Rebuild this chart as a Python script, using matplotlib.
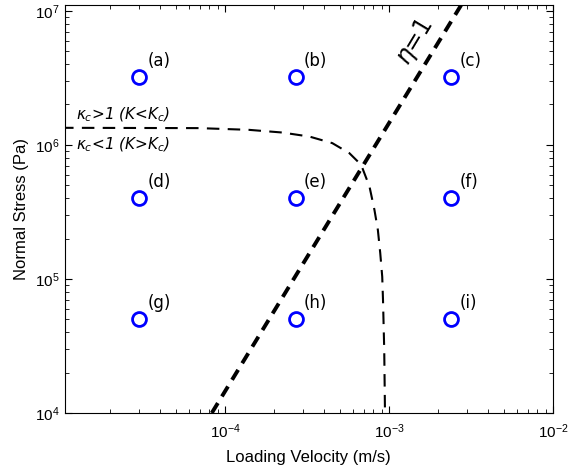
import matplotlib
matplotlib.use("Agg")
import matplotlib.pyplot as plt

plt.rcParams['font.family'] = ['Liberation Sans', 'DejaVu Sans']
plt.rcParams['mathtext.fontset'] = 'custom'
plt.rcParams['mathtext.it'] = 'DejaVu Sans:italic'
plt.rcParams['mathtext.rm'] = 'DejaVu Sans'

# --- test points (loading velocity, normal stress) ---
vel_pts = [3.0e-5, 2.7e-4, 2.4e-3]
stress_pts = [3.2e6, 4.0e5, 5.0e4]
point_labels = [['(a)', '(b)', '(c)'],
                ['(d)', '(e)', '(f)'],
                ['(g)', '(h)', '(i)']]

# --- critical stiffness boundary (kappa_c = 1) ---
kc_vel = [1.0e-5, 6.93e-5, 1.40e-4, 2.23e-4, 3.27e-4, 4.51e-4, 5.73e-4,
          6.76e-4, 7.60e-4, 8.15e-4, 8.55e-4, 8.84e-4, 9.09e-4, 9.19e-4,
          9.35e-4, 9.45e-4]
kc_stress = [1.34e6, 1.333e6, 1.294e6, 1.236e6, 1.153e6, 1.03e6, 8.67e5,
             7.10e5, 4.89e5, 3.27e5, 2.32e5, 1.56e5, 1.04e5, 6.97e4,
             2.95e4, 1.0e4]

# --- eta = 1 line ---
eta_vel = [8.3e-5, 2.75e-3]
eta_stress = [1.0e4, 1.1e7]

fig = plt.figure(figsize=(5.68, 4.75), dpi=100)
ax = fig.add_axes([0.1136, 0.1305, 0.86, 0.8585])
ax.set_xscale('log')
ax.set_yscale('log')

ax.plot(kc_vel, kc_stress, color='black', lw=1.5, dashes=(6, 4))
ax.plot(eta_vel, eta_stress, color='black', lw=2.8, dashes=(3, 2))

for i, s in enumerate(stress_pts):
    for j, v in enumerate(vel_pts):
        ax.plot(v, s, 'o', mfc='none', mec='blue', mew=2, ms=10)
        ax.annotate(point_labels[i][j], (v, s), xytext=(6, 5),
                    textcoords='offset points', ha='left', va='bottom',
                    fontsize=12, family='DejaVu Sans')

ax.text(1.24e-5, 1.67e6, r'$\kappa_c$>1 ($K$<$K_c$)', style='italic',
        fontsize=11, family='DejaVu Sans', ha='left', va='center')
ax.text(1.24e-5, 1.0e6, r'$\kappa_c$<1 ($K$>$K_c$)', style='italic',
        fontsize=11, family='DejaVu Sans', ha='left', va='center')
ax.text(1.44e-3, 5.87e6, r'$\eta$=1', rotation=59, fontsize=17,
        family='DejaVu Sans', ha='center', va='center')

ax.set_xlim(1.05e-5, 1e-2)
ax.set_ylim(1e4, 1.1e7)
ax.tick_params(which='both', direction='in', top=True, right=True,
               labelsize=11)
ax.tick_params(axis='x', which='major', pad=7)
ax.tick_params(which='major', length=5)
ax.tick_params(which='minor', length=3)
ax.set_xlabel('Loading Velocity (m/s)', fontsize=12, labelpad=6)
ax.set_ylabel('Normal Stress (Pa)', fontsize=12)

fig.savefig('out.png', dpi=100)
